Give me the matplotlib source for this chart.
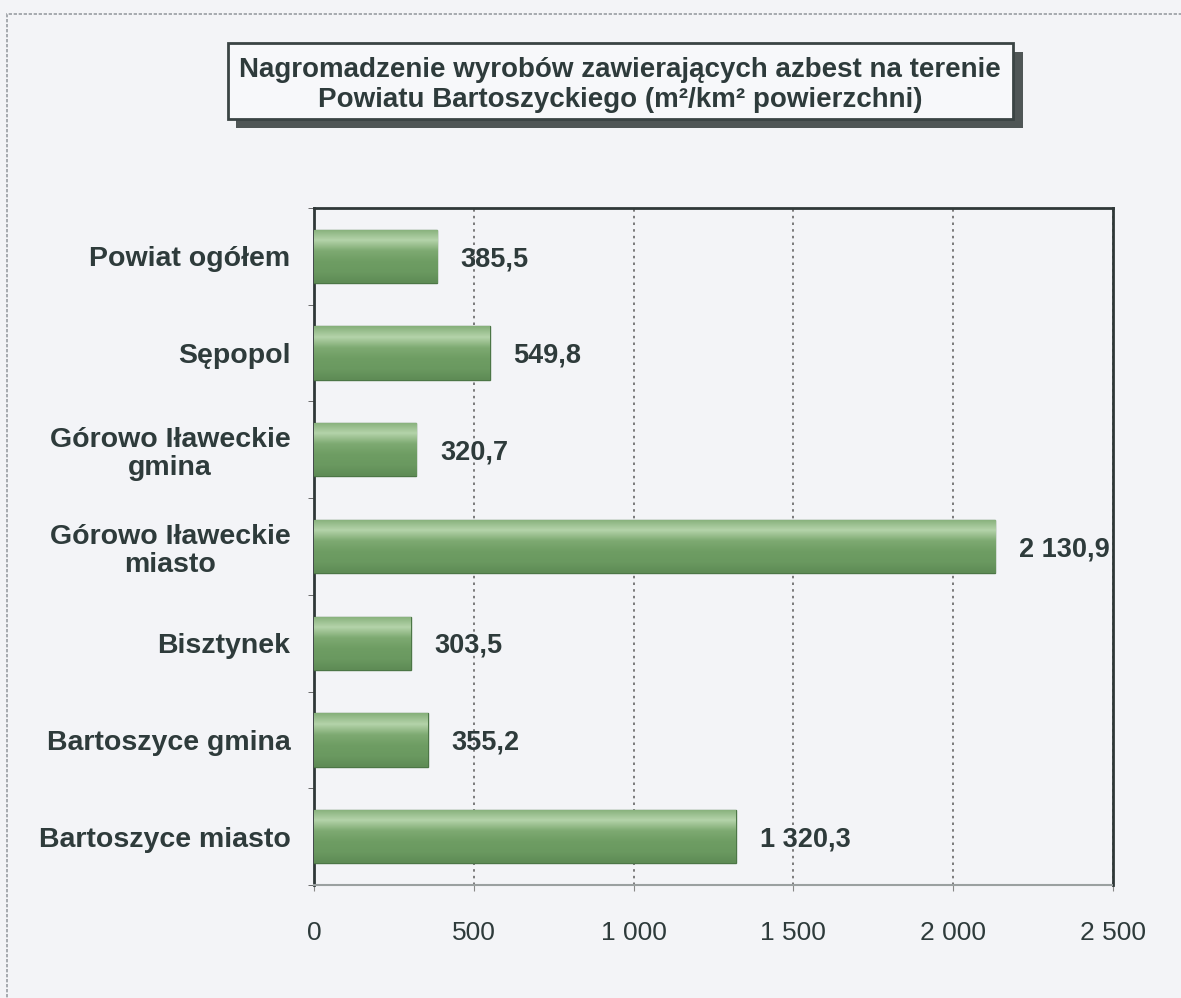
import numpy as np
import matplotlib.pyplot as plt
from matplotlib.patches import Rectangle
from matplotlib.colors import LinearSegmentedColormap

# data
categories = ['Powiat ogółem', 'Sępopol', 'Górowo Iławeckie\ngmina',
              'Górowo Iławeckie\nmiasto', 'Bisztynek', 'Bartoszyce gmina',
              'Bartoszyce miasto']
values = [385.5, 549.8, 320.7, 2130.9, 303.5, 355.2, 1320.3]
x_ticks = [0, 500, 1000, 1500, 2000, 2500]
title = ('Nagromadzenie wyrobów zawierających azbest na terenie\n'
         'Powiatu Bartoszyckiego (m²/km² powierzchni)')

TXT = '#2e3b3b'
BG = '#f3f4f7'
W, H = 1181, 998

plt.rcParams['font.family'] = ['Liberation Sans', 'DejaVu Sans']


def pl_fmt(v, dec=1):
    s = f'{v:,.{dec}f}'
    return s.replace(',', ' ').replace('.', ',')


fig = plt.figure(figsize=(W / 100, H / 100), dpi=100, facecolor=BG)

# outer scan frame
fig.patches.append(Rectangle((7 / W, -0.1), 1.2, 1 - 14 / H + 0.1,
                             transform=fig.transFigure, fill=False,
                             edgecolor='#9a9ea3', lw=1.2, ls=(0, (2, 1))))

# title box with shadow
fig.patches.append(Rectangle((236 / W, 1 - 128 / H), (1023 - 236) / W, (128 - 52) / H,
                             transform=fig.transFigure, facecolor='#4f5656',
                             edgecolor='none', zorder=1))
fig.patches.append(Rectangle((228 / W, 1 - 119 / H), (1013 - 228) / W, (119 - 43) / H,
                             transform=fig.transFigure, facecolor='#f7f8fa',
                             edgecolor='#3a4444', lw=2, zorder=2))
fig.text(620 / W, 1 - 85 / H, title, ha='center', va='center', fontsize=20,
         fontweight='bold', color=TXT, linespacing=1.2, zorder=3)

ax = fig.add_axes([314 / W, 1 - 885 / H, (1113 - 314) / W, (885 - 208) / H])
ax.set_facecolor(BG)

y = np.arange(len(categories))
bars = ax.barh(y, values, height=0.55, color='#6e9d63', edgecolor='#4c7646',
               lw=1, zorder=3)

# glossy vertical gradient clipped to each bar (light band near the top)
cmap = LinearSegmentedColormap.from_list(
    'gloss', ['#86b07a', '#b4d3aa', '#7eaa72', '#6e9d63', '#6a9960', '#5e8b55'])
grad = np.linspace(0, 1, 100).reshape(-1, 1)
for b in bars:
    x0, y0, w, h = b.get_x(), b.get_y(), b.get_width(), b.get_height()
    im = ax.imshow(grad, cmap=cmap, aspect='auto', origin='upper',
                   extent=(x0, x0 + w, y0 + h, y0), zorder=3.5)
    im.set_clip_path(b)

for yi, v in zip(y, values):
    ax.annotate(pl_fmt(v), (v, yi), xytext=(17, -2), textcoords='offset points',
                ha='left', va='center', fontsize=19.5, fontweight='bold', color=TXT)

ax.set_xlim(0, 2500)
ax.set_ylim(len(categories) - 0.5, -0.5)
ax.set_xticks(x_ticks)
ax.set_xticklabels([pl_fmt(t, 0) for t in x_ticks], fontsize=19, color=TXT)
ax.set_yticks(y)
ax.set_yticklabels(categories, fontsize=20.5, fontweight='bold', color=TXT,
                   linespacing=1.1, multialignment='center')
ax.set_yticks(np.arange(len(categories) + 1) - 0.5, minor=True)
ax.tick_params(axis='y', which='major', length=0, pad=17)
ax.tick_params(axis='y', which='minor', length=4, color='#555')
ax.tick_params(axis='x', length=4, color='#888', pad=22)

ax.grid(axis='x', ls=(0, (1.5, 2.5)), color='#666', lw=1.2, zorder=0)
for s in ['left', 'top', 'right']:
    ax.spines[s].set_color('#2f3838')
    ax.spines[s].set_linewidth(2)
ax.spines['bottom'].set_color('#9aa0a0')
ax.spines['bottom'].set_linewidth(1.5)
ax.spines['bottom'].set_linestyle((0, (3, 1)))

fig.savefig('out.png', dpi=100, facecolor=BG)
